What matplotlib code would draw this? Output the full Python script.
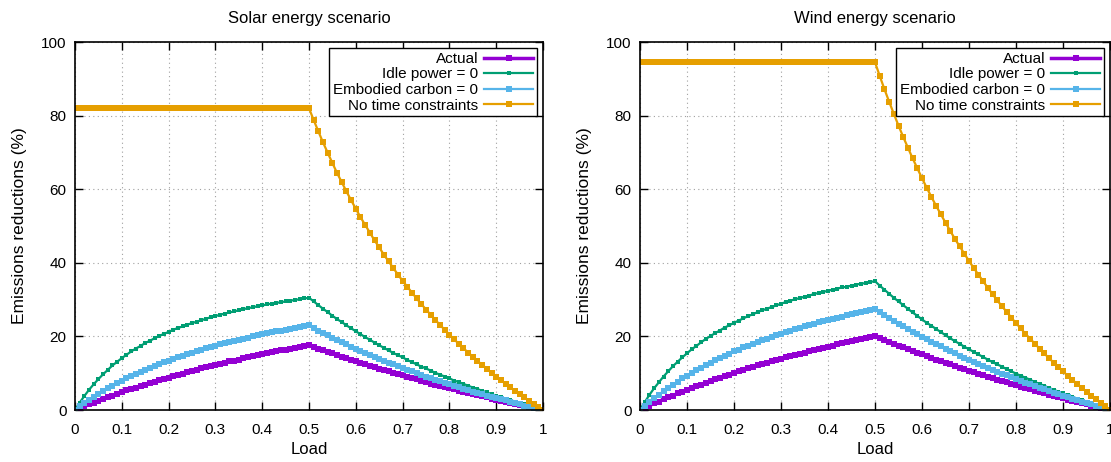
import matplotlib
matplotlib.use("Agg")
import matplotlib.pyplot as plt

# load values 0, 0.01, ... 1
load = [i / 100 for i in range(101)]

# values, solar panel
solar_actual = [0.0,0.5,1.0,1.5,2.0,2.5,3.0,3.5,3.9,4.4,4.8,5.3,5.7,6.1,6.5,6.9,7.3,7.7,8.1,8.5,8.8,9.2,9.6,9.9,10.3,10.6,10.9,11.3,11.6,11.9,12.2,12.5,12.8,13.2,13.4,13.7,14.0,14.3,14.6,14.9,15.1,15.4,15.7,15.9,16.2,16.4,16.7,16.9,17.2,17.4,17.7,17.2,16.7,16.3,15.8,15.4,14.9,14.5,14.1,13.7,13.3,12.8,12.4,12.0,11.6,11.2,10.9,10.5,10.1,9.7,9.4,9.0,8.6,8.3,7.9,7.6,7.2,6.9,6.6,6.2,5.9,5.6,5.2,4.9,4.6,4.3,4.0,3.7,3.4,3.1,2.8,2.5,2.2,1.9,1.6,1.4,1.1,0.8,0.5,0.3,0.0]
solar_idle = [0.0,2.0,3.8,5.5,7.0,8.4,9.7,10.9,12.1,13.1,14.1,15.0,15.9,16.7,17.4,18.2,18.8,19.5,20.1,20.7,21.2,21.8,22.3,22.7,23.2,23.6,24.0,24.4,24.8,25.2,25.5,25.9,26.2,26.5,26.8,27.1,27.4,27.7,27.9,28.2,28.4,28.7,28.9,29.1,29.3,29.5,29.7,29.9,30.1,30.3,30.5,29.5,28.5,27.5,26.6,25.6,24.7,23.9,23.0,22.2,21.4,20.6,19.8,19.1,18.3,17.6,16.9,16.2,15.5,14.9,14.3,13.6,13.0,12.4,11.8,11.3,10.7,10.1,9.6,9.1,8.6,8.0,7.6,7.1,6.6,6.1,5.7,5.2,4.8,4.3,3.9,3.5,3.1,2.7,2.3,1.9,1.5,1.1,0.7,0.4,0.0]
solar_emb = [0.0,1.0,1.9,2.7,3.6,4.4,5.1,5.9,6.6,7.3,7.9,8.6,9.2,9.8,10.4,10.9,11.5,12.0,12.5,13.0,13.4,13.9,14.3,14.8,15.2,15.6,16.0,16.4,16.8,17.1,17.5,17.8,18.2,18.5,18.8,19.1,19.4,19.7,20.0,20.3,20.6,20.8,21.1,21.4,21.6,21.8,22.1,22.3,22.6,22.8,23.0,22.3,21.6,21.0,20.3,19.7,19.0,18.4,17.8,17.2,16.6,16.1,15.5,15.0,14.4,13.9,13.4,12.9,12.4,11.9,11.4,10.9,10.5,10.0,9.5,9.1,8.7,8.2,7.8,7.4,7.0,6.6,6.2,5.8,5.4,5.0,4.7,4.3,3.9,3.6,3.2,2.9,2.6,2.2,1.9,1.6,1.2,0.9,0.6,0.3,0.0]
solar_free = [82.0] * 50 + [82.0,78.8,75.7,72.7,69.9,67.1,64.4,61.9,59.4,57.0,54.7,52.4,50.3,48.2,46.1,44.2,42.2,40.4,38.6,36.8,35.1,33.5,31.9,30.3,28.8,27.3,25.9,24.5,23.1,21.8,20.5,19.2,18.0,16.8,15.6,14.5,13.3,12.3,11.2,10.1,9.1,8.1,7.1,6.2,5.2,4.3,3.4,2.5,1.7,0.8,0.0]

# wind panel
wind_actual = [0.0,0.6,1.2,1.8,2.3,2.9,3.4,3.9,4.5,5.0,5.5,6.0,6.5,6.9,7.4,7.9,8.3,8.8,9.2,9.6,10.0,10.5,10.9,11.3,11.7,12.1,12.4,12.8,13.2,13.6,13.9,14.3,14.6,15.0,15.3,15.6,16.0,16.3,16.6,16.9,17.2,17.5,17.8,18.1,18.4,18.7,19.0,19.3,19.6,19.8,20.1,19.6,19.0,18.5,18.0,17.5,17.0,16.5,16.0,15.5,15.1,14.6,14.1,13.7,13.2,12.8,12.4,11.9,11.5,11.1,10.6,10.2,9.8,9.4,9.0,8.6,8.2,7.8,7.5,7.1,6.7,6.3,6.0,5.6,5.2,4.9,4.5,4.2,3.8,3.5,3.2,2.8,2.5,2.2,1.9,1.5,1.2,0.9,0.6,0.3,0.0]
wind_idle = [0.0,2.1,4.1,5.9,7.5,9.1,10.5,11.9,13.1,14.3,15.4,16.5,17.4,18.4,19.3,20.1,20.9,21.6,22.4,23.0,23.7,24.3,24.9,25.5,26.0,26.6,27.1,27.5,28.0,28.4,28.9,29.3,29.7,30.1,30.4,30.8,31.1,31.5,31.8,32.1,32.4,32.7,33.0,33.3,33.5,33.8,34.1,34.3,34.5,34.8,35.0,33.8,32.7,31.6,30.5,29.5,28.5,27.5,26.5,25.6,24.6,23.7,22.9,22.0,21.2,20.3,19.5,18.7,18.0,17.2,16.5,15.8,15.1,14.4,13.7,13.0,12.4,11.8,11.1,10.5,9.9,9.3,8.8,8.2,7.6,7.1,6.6,6.0,5.5,5.0,4.5,4.0,3.6,3.1,2.6,2.2,1.7,1.3,0.8,0.4,0.0]
wind_emb = [0.0,1.1,2.2,3.2,4.2,5.1,6.0,6.9,7.7,8.6,9.3,10.1,10.8,11.5,12.2,12.9,13.5,14.1,14.7,15.3,15.9,16.4,17.0,17.5,18.0,18.5,18.9,19.4,19.9,20.3,20.7,21.1,21.5,21.9,22.3,22.7,23.1,23.4,23.8,24.1,24.5,24.8,25.1,25.4,25.7,26.0,26.3,26.6,26.9,27.2,27.4,26.6,25.8,25.0,24.2,23.5,22.7,22.0,21.3,20.6,19.9,19.2,18.5,17.9,17.3,16.6,16.0,15.4,14.8,14.2,13.6,13.1,12.5,12.0,11.4,10.9,10.4,9.9,9.4,8.9,8.4,7.9,7.4,7.0,6.5,6.0,5.6,5.2,4.7,4.3,3.9,3.5,3.1,2.7,2.3,1.9,1.5,1.1,0.7,0.4,0.0]
wind_free = [94.5] * 50 + [94.5,90.8,87.2,83.8,80.5,77.3,74.2,71.3,68.4,65.7,63.0,60.4,57.9,55.5,53.2,50.9,48.7,46.5,44.5,42.5,40.5,38.6,36.8,35.0,33.2,31.5,29.8,28.2,26.7,25.1,23.6,22.2,20.7,19.4,18.0,16.7,15.4,14.1,12.9,11.7,10.5,9.3,8.2,7.1,6.0,5.0,3.9,2.9,1.9,1.0,0.0]

xticks = [0, 0.1, 0.2, 0.3, 0.4, 0.5, 0.6, 0.7, 0.8, 0.9, 1]
xticklabels = ['0', '0.1', '0.2', '0.3', '0.4', '0.5', '0.6', '0.7', '0.8', '0.9', '1']
yticks = [0, 20, 40, 60, 80, 100]

plt.rcParams['font.family'] = ['Liberation Sans', 'DejaVu Sans']

fig = plt.figure(figsize=(11.11, 4.62), dpi=100)
ax1 = fig.add_axes([75/1111, 52/462, 468/1111, 368/462])
ax2 = fig.add_axes([640/1111, 52/462, 470/1111, 368/462])

panels = [
    (ax1, 'Solar energy scenario', solar_actual, solar_idle, solar_emb, solar_free),
    (ax2, 'Wind energy scenario', wind_actual, wind_idle, wind_emb, wind_free),
]

for ax, title, actual, idle, emb, free in panels:
    ax.plot(load, actual, color='#9400d3', lw=2.5, marker='s', ms=4, mew=0, label='Actual')
    ax.plot(load, idle, color='#009e73', lw=1.6, marker='s', ms=2.6, mew=0, label='Idle power = 0')
    ax.plot(load, emb, color='#56b4e9', lw=1.6, marker='s', ms=4.5, mew=0, label='Embodied carbon = 0')
    ax.plot(load, free, color='#e69f00', lw=1.6, marker='s', ms=4.5, mew=0, label='No time constraints')

    ax.set_xlim(0, 1)
    ax.set_ylim(0, 100)
    ax.set_xticks(xticks)
    ax.set_xticklabels(xticklabels)
    ax.set_yticks(yticks)
    ax.grid(True, linestyle=(0, (1, 3)), color='#a0a0a0', lw=0.8)
    ax.set_axisbelow(True)
    ax.tick_params(direction='in', top=True, right=True, length=6, width=1, labelsize=11)
    ax.tick_params(axis='x', pad=9)
    ax.tick_params(axis='y', pad=6)
    for s in ax.spines.values():
        s.set_linewidth(1.2)

    ax.set_title(title, fontsize=12, pad=14)
    ax.set_xlabel('Load', fontsize=12, labelpad=4)
    ax.set_ylabel('Emissions reductions (%)', fontsize=12.5, labelpad=10)

    # gnuplot style key: text on the left, sample on the right
    leg = ax.legend(loc='upper right', markerfirst=False, fontsize=11, fancybox=False,
                    edgecolor='black', framealpha=1, handlelength=3.2, handletextpad=0.4,
                    labelspacing=0.1, borderaxespad=0.4, borderpad=0.25, numpoints=1)
    leg.get_frame().set_linewidth(1.0)

fig.savefig('out.png', dpi=100)
